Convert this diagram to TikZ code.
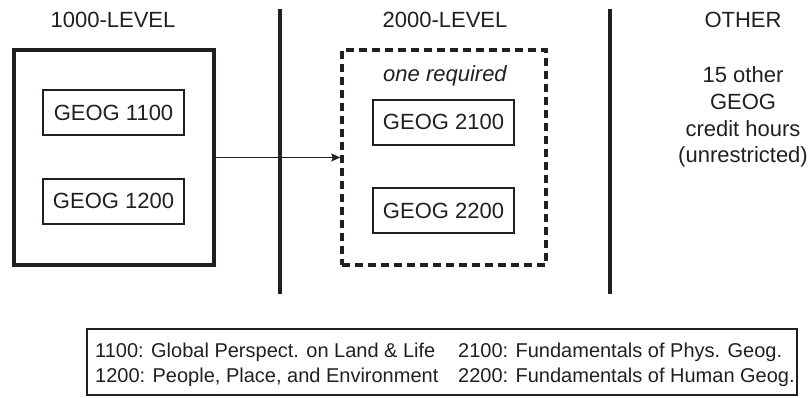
\documentclass[tikz,border=0pt]{standalone}
\usepackage{fontspec}
\setmainfont{Liberation Sans}
\usetikzlibrary{arrows.meta}
\definecolor{ink}{HTML}{231F20}
\tikzset{
  lbl/.style={text=ink, inner sep=0pt, anchor=base, font=\fontsize{22}{26}\selectfont},
  legtxt/.style={text=ink, inner sep=0pt, anchor=base west, font=\fontsize{20}{24}\selectfont},
  course/.style={draw=ink, line width=2pt, minimum width=141pt, minimum height=45pt, inner sep=0pt, text=ink, font=\fontsize{22}{26}\selectfont},
  groupbox/.style={draw=ink, line width=4pt, minimum width=200pt, minimum height=215pt, inner sep=0pt},
  choicebox/.style={draw=ink, line width=3.5pt, dash pattern=on 8pt off 5pt, minimum width=204pt, minimum height=215pt, inner sep=0pt},
  divider/.style={draw=ink, line width=4pt},
  flow/.style={draw=ink, line width=1.5pt, -{Stealth[length=9pt,width=8pt,inset=1.5pt]}},
  legendbox/.style={draw=ink, line width=2pt, minimum width=710pt, minimum height=66pt, inner sep=0pt}
}
\begin{document}
\begin{tikzpicture}[x=1pt,y=-1pt]
\useasboundingbox (0,0) rectangle (810,397);
% headers
\node[lbl] (h1) at (113,27) {1000-LEVEL};
\node[lbl] (h2) at (445,27) {2000-LEVEL};
\node[lbl] (h3) at (743,27) {OTHER};
% dividers
\coordinate (v1t) at (280,9);
\coordinate (v1b) at (280,294);
\coordinate (v2t) at (610,9);
\coordinate (v2b) at (610,294);
\draw[divider] (v1t) -- (v1b);
\draw[divider] (v2t) -- (v2b);
% 1000-level group
\node[groupbox] (lvlone) at (114,157.5) {};
\node[course] (g1100) at (113.5,112.5) {GEOG 1100};
\node[course] (g1200) at (113.5,201) {GEOG 1200};
% 2000-level group
\node[choicebox] (lvltwo) at (444,157.5) {};
\node[lbl, font=\fontsize{22}{26}\selectfont\itshape] (req) at (445,81) {one required};
\node[course] (g2100) at (443.5,122) {GEOG 2100};
\node[course] (g2200) at (443.5,210.5) {GEOG 2200};
% arrow
\draw[flow] (lvlone.east) -- (lvltwo.west);
% other
\node[lbl] (o1) at (743,82) {15 other};
\node[lbl] (o2) at (743,109) {GEOG};
\node[lbl] (o3) at (743,136) {credit hours};
\node[lbl] (o4) at (743,162) {(unrestricted)};
% legend
\node[legendbox] (legend) at (442,362) {};
\node[legtxt] (l1) at (95,357) {1100: Global Perspect. on Land \& Life};
\node[legtxt] (l2) at (95,382) {1200: People, Place, and Environment};
\node[legtxt] (l3) at (458,357) {2100: Fundamentals of Phys. Geog.};
\node[legtxt] (l4) at (458,382) {2200: Fundamentals of Human Geog.};
\end{tikzpicture}
\end{document}
